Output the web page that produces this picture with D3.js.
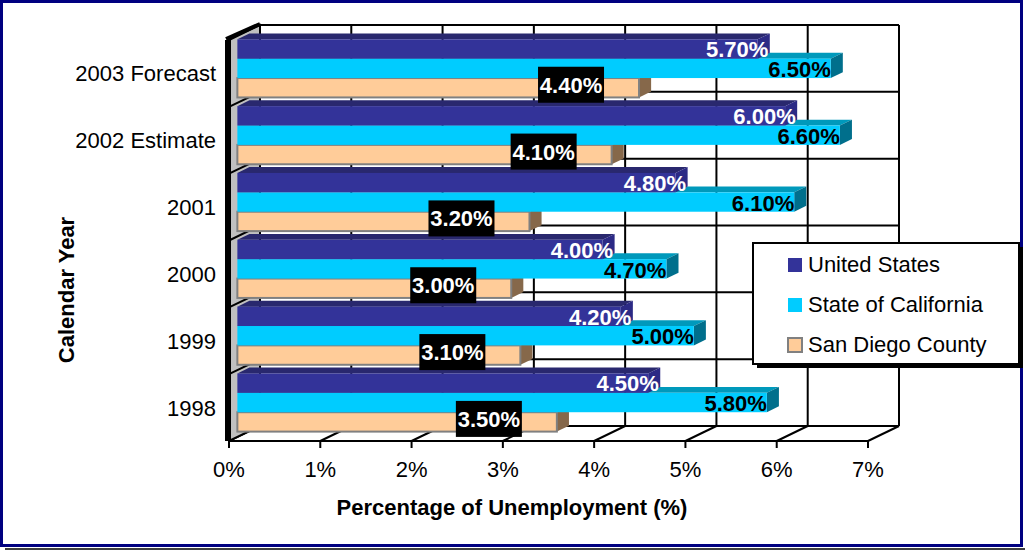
<!DOCTYPE html>
<html>
<head>
<meta charset="utf-8">
<script src="https://cdn.jsdelivr.net/npm/d3@7"></script>
<style>
  body { margin: 0; background: #fff; }
  text { font-family: "Liberation Sans", Arial, sans-serif; }
</style>
</head>
<body>
<div id="chart"></div>
<script>
// Data
const categories = ["2003 Forecast", "2002 Estimate", "2001", "2000", "1999", "1998"];
const seriesNames = ["United States", "State of California", "San Diego County"];
const usValues = [5.7, 6.0, 4.8, 4.0, 4.2, 4.5];
const caValues = [6.5, 6.6, 6.1, 4.7, 5.0, 5.8];
const sdValues = [4.4, 4.1, 3.2, 3.0, 3.1, 3.5];
const xTicks = [0, 1, 2, 3, 4, 5, 6, 7];

const width = 1025;
const height = 550;

// 3D depth vector (front plane -> back wall)
const depth = { dx: 31, dy: -15 };
const barZ = [0.27, 0.66];

const colors = [
    { front: "#333399", top: "#29286e", side: "#2c2a85" },
    { front: "#00ccff", top: "#0099bb", side: "#006f8c" },
    { front: "#ffcc99", top: "#d9a877", side: "#86684a" }
];

const svg = d3.select("#chart")
    .append("svg")
    .attr("width", width)
    .attr("height", height);

// Outer frame
svg.append("rect")
    .attr("x", 1.5).attr("y", 1.5)
    .attr("width", 1020).attr("height", 544)
    .attr("fill", "none")
    .attr("stroke", "#000080")
    .attr("stroke-width", 3);
svg.append("line")
    .attr("x1", 5).attr("x2", width)
    .attr("y1", 549).attr("y2", 549)
    .attr("stroke", "#000").attr("stroke-width", 1.5);

// Scales on the front plane
const x = d3.scaleLinear().domain([0, 7]).range([229, 868]);
const y = d3.scaleBand().domain(categories).range([40, 441]);
const bw = y.bandwidth();

// project a point (value, front y, depth z) to screen
const P = (v, yy, z) => [x(v) + z * depth.dx, yy + z * depth.dy];
const poly = pts => pts.map(p => p.join(",")).join(" ");

const yTop = y.range()[0], yBot = y.range()[1];
const boundaries = categories.map(c => y(c)).concat([yBot]);

// Back wall
svg.append("polygon")
    .attr("points", poly([P(0, yTop, 1), P(7, yTop, 1), P(7, yBot, 1), P(0, yBot, 1)]))
    .attr("fill", "#fff");

// vertical gridlines on back wall
svg.append("g").selectAll("line")
    .data(xTicks)
    .join("line")
    .attr("x1", d => P(d, yTop, 1)[0])
    .attr("x2", d => P(d, yBot, 1)[0])
    .attr("y1", P(0, yTop, 1)[1])
    .attr("y2", P(0, yBot, 1)[1])
    .attr("stroke", "#000")
    .attr("stroke-width", 2);

// horizontal category lines on back wall
svg.append("g").selectAll("line")
    .data(boundaries)
    .join("line")
    .attr("x1", P(0, 0, 1)[0])
    .attr("x2", P(7, 0, 1)[0])
    .attr("y1", d => P(0, d, 1)[1])
    .attr("y2", d => P(0, d, 1)[1])
    .attr("stroke", "#000")
    .attr("stroke-width", 2);

// Floor diagonals
svg.append("g").selectAll("line")
    .data(xTicks)
    .join("line")
    .attr("x1", d => P(d, yBot, 0)[0])
    .attr("y1", d => P(d, yBot, 0)[1])
    .attr("x2", d => P(d, yBot, 1)[0])
    .attr("y2", d => P(d, yBot, 1)[1])
    .attr("stroke", "#000")
    .attr("stroke-width", 2);

// Left wall
svg.append("polygon")
    .attr("points", poly([P(0, yTop, 0), P(0, yTop, 1), P(0, yBot, 1), P(0, yBot, 0)]))
    .attr("fill", "#c0c0c0")
    .attr("stroke", "#000")
    .attr("stroke-width", 2);
svg.append("g").selectAll("line")
    .data(boundaries.slice(1, -1))
    .join("line")
    .attr("x1", P(0, 0, 0)[0])
    .attr("x2", P(0, 0, 1)[0])
    .attr("y1", d => P(0, d, 0)[1])
    .attr("y2", d => P(0, d, 1)[1])
    .attr("stroke", "#000")
    .attr("stroke-width", 2);
svg.append("line")
    .attr("x1", P(0, yTop, 0)[0] - 1).attr("y1", P(0, yTop, 0)[1])
    .attr("x2", P(0, yBot, 0)[0] - 1).attr("y2", P(0, yBot, 0)[1])
    .attr("stroke", "#000").attr("stroke-width", 6);
svg.append("line")
    .attr("x1", P(0, yTop, 0)[0] - 3).attr("y1", P(0, yTop, 0)[1] - 1)
    .attr("x2", P(0, yTop, 1)[0]).attr("y2", P(0, yTop, 1)[1] - 1)
    .attr("stroke", "#000").attr("stroke-width", 4);

// Front axis line and ticks
svg.append("line")
    .attr("x1", x(0)).attr("x2", x(7))
    .attr("y1", yBot).attr("y2", yBot)
    .attr("stroke", "#000").attr("stroke-width", 2);
svg.append("g").selectAll("line")
    .data(xTicks)
    .join("line")
    .attr("x1", d => x(d)).attr("x2", d => x(d))
    .attr("y1", yBot).attr("y2", yBot + 7)
    .attr("stroke", "#000").attr("stroke-width", 2);

svg.append("g").selectAll("text")
    .data(xTicks)
    .join("text")
    .attr("x", d => x(d))
    .attr("y", 477)
    .attr("text-anchor", "middle")
    .attr("font-size", 22)
    .text(d => d + "%");

// Category labels
svg.append("g").selectAll("text")
    .data(categories)
    .join("text")
    .attr("x", 216)
    .attr("y", d => y(d) + bw / 2 + 8)
    .attr("text-anchor", "end")
    .attr("font-size", 22)
    .text(d => d);

// Bars
const rows = categories.map((c, i) => ({
    cat: c,
    vals: [usValues[i], caValues[i], sdValues[i]]
}));

const barGroup = svg.append("g");
rows.forEach(row => {
    // draw bottom bar first so the one above covers its top face
    [2, 1, 0].forEach(s => {
        const v = row.vals[s];
        const y0 = y(row.cat) + bw * (0.05 + 0.29 * s);
        const y1 = y0 + bw * 0.29;
        const [z0, z1] = barZ;
        const g = barGroup.append("g");
        g.append("polygon")
            .attr("points", poly([P(0, y0, z0), P(v, y0, z0), P(v, y0, z1), P(0, y0, z1)]))
            .attr("fill", colors[s].top);
        g.append("polygon")
            .attr("points", poly([P(v, y0, z0), P(v, y0, z1), P(v, y1, z1), P(v, y1, z0)]))
            .attr("fill", colors[s].side);
        const f0 = P(0, y0, z0), f1 = P(v, y1, z0);
        g.append("rect")
            .attr("x", f0[0]).attr("y", f0[1])
            .attr("width", f1[0] - f0[0])
            .attr("height", f1[1] - f0[1])
            .attr("fill", colors[s].front)
            .attr("stroke", s === 2 ? "#808080" : "none")
            .attr("stroke-width", 2);
    });
});

// Value labels
const labelGroup = svg.append("g")
    .attr("font-size", 22)
    .attr("font-weight", "bold");
rows.forEach(row => {
    const [z0] = barZ;
    const yUS = y(row.cat) + bw * 0.05;
    const yCA = yUS + bw * 0.29;
    const ySD = yCA + bw * 0.29;
    const shift = z0 * depth.dy;

    labelGroup.append("text")
        .attr("x", x(row.vals[0]) + 19)
        .attr("y", yCA + shift - 1.5)
        .attr("text-anchor", "end")
        .attr("fill", "#fff")
        .text(row.vals[0].toFixed(2) + "%");

    labelGroup.append("text")
        .attr("x", P(row.vals[1], 0, z0)[0])
        .attr("y", ySD + shift - 1)
        .attr("text-anchor", "end")
        .attr("fill", "#000")
        .text(row.vals[1].toFixed(2) + "%");

    // black box label for San Diego
    const cx = P(row.vals[2], 0, z0)[0] - 35 - 33;
    const cy = ySD + bw * 0.145 + shift - 3;
    labelGroup.append("rect")
        .attr("x", cx - 33).attr("y", cy - 18)
        .attr("width", 66).attr("height", 36)
        .attr("fill", "#000");
    labelGroup.append("text")
        .attr("x", cx)
        .attr("y", cy + 8)
        .attr("text-anchor", "middle")
        .attr("fill", "#fff")
        .text(row.vals[2].toFixed(2) + "%");
});

// Axis titles
svg.append("text")
    .attr("x", 512)
    .attr("y", 515)
    .attr("text-anchor", "middle")
    .attr("font-size", 22)
    .attr("font-weight", "bold")
    .text("Percentage of Unemployment (%)");

svg.append("text")
    .attr("transform", "translate(74,290) rotate(-90)")
    .attr("text-anchor", "middle")
    .attr("font-size", 22)
    .attr("font-weight", "bold")
    .text("Calendar Year");

// Legend
const legend = svg.append("g").attr("transform", "translate(753,243)");
legend.append("rect")
    .attr("x", 4).attr("y", 4)
    .attr("width", 266).attr("height", 121)
    .attr("fill", "#000");
legend.append("rect")
    .attr("width", 266).attr("height", 121)
    .attr("fill", "#fff")
    .attr("stroke", "#000")
    .attr("stroke-width", 2);
const items = legend.selectAll("g.item")
    .data(seriesNames)
    .join("g")
    .attr("class", "item")
    .attr("transform", (d, i) => `translate(0,${29 + i * 40})`);
items.append("rect")
    .attr("x", 35).attr("y", -14)
    .attr("width", 14).attr("height", 14)
    .attr("fill", (d, i) => colors[i].front)
    .attr("stroke", (d, i) => i === 2 ? "#808080" : "none")
    .attr("stroke-width", 2);
items.append("text")
    .attr("x", 55)
    .attr("y", 0)
    .attr("font-size", 22)
    .text(d => d);
</script>
</body>
</html>
